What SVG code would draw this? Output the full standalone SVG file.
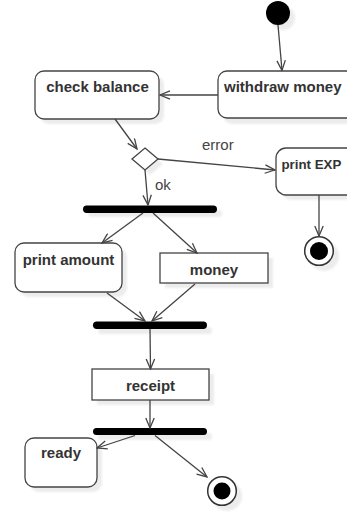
<svg xmlns="http://www.w3.org/2000/svg" width="347" height="512" viewBox="0 0 347 512">
<style>
.box{fill:#fff;stroke:#444;stroke-width:1.3}
.sh{fill:#ececec;filter:url(#blur)}
.bar{fill:#000}
.lbl{font-family:"Liberation Sans",Arial,sans-serif;font-size:15px;font-weight:bold;fill:#333}
.cap{font-family:"Liberation Sans",Arial,sans-serif;font-size:15px;fill:#444}
.edge{fill:none;stroke:#444;stroke-width:1.3;marker-end:url(#arr)}
</style>
<defs>
<filter id="blur" x="-20%" y="-20%" width="140%" height="140%"><feGaussianBlur stdDeviation="1.2"/></filter>
<marker id="arr" viewBox="0 0 12 10" refX="11" refY="5" markerWidth="12" markerHeight="10" markerUnits="userSpaceOnUse" orient="auto">
<path d="M1,0.8 L11,5 L1,9.2" fill="none" stroke="#444" stroke-width="1.3"/>
</marker>
</defs>
<rect width="347" height="512" fill="#fff"/>
<g id="start">
<circle class="sh" cx="283" cy="18" r="12"/>
<circle cx="278" cy="13" r="12" fill="#000"/>
</g>
<g id="withdraw">
<rect class="sh" x="223" y="76" width="140" height="48" rx="9"/>
<rect class="box" x="218" y="71" width="140" height="47" rx="9"/>
<text class="lbl" x="224" y="91.5">withdraw money</text>
</g>
<g id="check">
<rect class="sh" x="40" y="76" width="124" height="48" rx="9"/>
<rect class="box" x="35" y="71" width="124" height="48" rx="9"/>
<text class="lbl" x="97.5" y="91.5" text-anchor="middle">check balance</text>
</g>
<g id="decision">
<polygon class="sh" points="150,153 163,164 150,175 137,164"/>
<polygon class="box" points="145,148 158,159 145,170 132,159"/>
</g>
<g id="printexp">
<rect class="sh" x="281" y="153" width="90" height="47" rx="10"/>
<rect class="box" x="276" y="148" width="90" height="47" rx="10"/>
<text class="lbl" x="281.5" y="169" style="font-size:13.3px">print EXP</text>
</g>
<g id="final1">
<circle class="sh" cx="324" cy="256" r="15"/>
<circle cx="319" cy="251" r="14.3" fill="#fff" stroke="#333" stroke-width="1.5"/>
<circle cx="319" cy="251" r="9" fill="#000"/>
</g>
<g id="fork1">
<rect class="sh" x="88" y="210" width="134" height="7" rx="3.5"/>
<rect class="bar" x="83" y="205.5" width="134" height="7.5" rx="3.7"/>
</g>
<g id="printamount">
<rect class="sh" x="20" y="248" width="107" height="49" rx="9"/>
<rect class="box" x="15" y="243" width="107" height="49" rx="9"/>
<text class="lbl" x="68.5" y="265" text-anchor="middle">print amount</text>
</g>
<g id="money">
<rect class="sh" x="165" y="258" width="108" height="30"/>
<rect class="box" x="160" y="253" width="108" height="30"/>
<text class="lbl" x="214" y="274.5" text-anchor="middle">money</text>
</g>
<g id="join">
<rect class="sh" x="98" y="327" width="114" height="7" rx="3.5"/>
<rect class="bar" x="93" y="321.5" width="114" height="7.5" rx="3.7"/>
</g>
<g id="receipt">
<rect class="sh" x="97" y="374" width="117" height="31"/>
<rect class="box" x="92" y="369" width="117" height="31"/>
<text class="lbl" x="150.5" y="390.5" text-anchor="middle">receipt</text>
</g>
<g id="fork2">
<rect class="sh" x="98" y="433" width="114" height="7" rx="3.5"/>
<rect class="bar" x="93" y="428" width="114" height="7" rx="3.5"/>
</g>
<g id="ready">
<rect class="sh" x="30" y="443" width="72" height="49" rx="9"/>
<rect class="box" x="25" y="438" width="72" height="49" rx="9"/>
<text class="lbl" x="61" y="458" text-anchor="middle">ready</text>
</g>
<g id="final2">
<circle class="sh" cx="227" cy="496" r="15"/>
<circle cx="222" cy="491" r="14.3" fill="#fff" stroke="#333" stroke-width="1.5"/>
<circle cx="222" cy="491" r="8.5" fill="#000"/>
</g>
<g id="connectors">
<line class="edge" x1="278" y1="25" x2="282" y2="70.5"/>
<line class="edge" x1="218" y1="95" x2="160" y2="95"/>
<line class="edge" x1="115" y1="119" x2="137" y2="149"/>
<line class="edge" x1="158" y1="159" x2="275" y2="170"/>
<line class="edge" x1="145" y1="170" x2="148" y2="205"/>
<line class="edge" x1="143" y1="213" x2="102" y2="243"/>
<line class="edge" x1="153" y1="213" x2="197" y2="253"/>
<line class="edge" x1="107" y1="293" x2="145" y2="321"/>
<line class="edge" x1="195" y1="284" x2="152" y2="321"/>
<line class="edge" x1="150" y1="329" x2="150.5" y2="369"/>
<line class="edge" x1="150" y1="400" x2="150" y2="428"/>
<line class="edge" x1="135" y1="435.5" x2="97" y2="448"/>
<line class="edge" x1="155" y1="435.5" x2="207" y2="477"/>
<line class="edge" x1="319" y1="195" x2="319" y2="236"/>
<text class="cap" x="202" y="150">error</text>
<text class="cap" x="155" y="189.5">ok</text>
</g>
</svg>
